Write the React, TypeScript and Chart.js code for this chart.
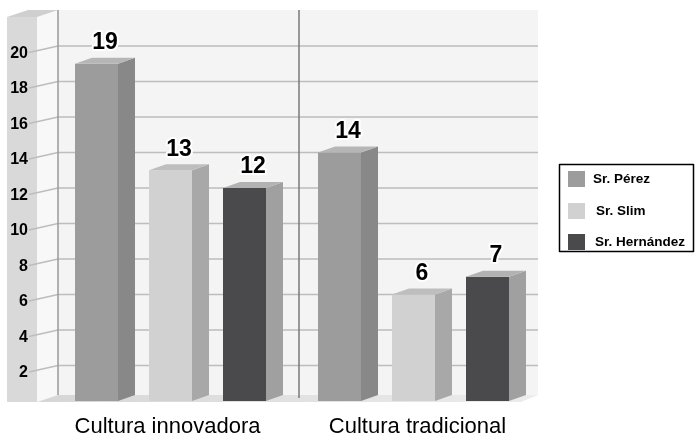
import React, { useEffect, useRef } from "react";
import Chart from "chart.js/auto";

const categories = ["Cultura innovadora", "Cultura tradicional"];
const seriesNames = ["Sr. Pérez", "Sr. Slim", "Sr. Hernández"];
const perez = [19, 14];
const slim = [13, 6];
const hernandez = [12, 7];
const yTicks = [2, 4, 6, 8, 10, 12, 14, 16, 18, 20];

const frontColors = ["#9c9c9c", "#d1d1d1", "#4a4a4c"];
const sideColors = ["#888888", "#a8a8a8", "#a0a0a0"];
const topColors = ["#b6b6b6", "#bebebe", "#b2b2b2"];

const DX = 17;
const DY = -6;
const FONT = "'Liberation Sans', Arial, sans-serif";

const decorPlugin = {
  id: "decor3d",
  beforeDatasetsDraw(chart: any) {
    const ctx = chart.ctx;
    const y = chart.scales.y;
    const x = chart.scales.x;
    const wallL = 58;
    const wallR = 538;
    const wallT = 10;
    const wallB = 395;
    const frontB = 402;
    ctx.save();
    // back wall
    ctx.fillStyle = "#f4f4f4";
    ctx.fillRect(wallL, wallT, wallR - wallL, wallB - wallT);
    // side plane of left panel
    ctx.fillStyle = "#f8f8f8";
    ctx.beginPath();
    ctx.moveTo(37, 17);
    ctx.lineTo(wallL, wallT);
    ctx.lineTo(wallL, wallB);
    ctx.lineTo(37, frontB);
    ctx.closePath();
    ctx.fill();
    // floor
    const g = ctx.createLinearGradient(37, 0, wallR, 0);
    g.addColorStop(0, "#d6d6d6");
    g.addColorStop(1, "#ececec");
    ctx.fillStyle = g;
    ctx.beginPath();
    ctx.moveTo(37, frontB);
    ctx.lineTo(wallL, wallB);
    ctx.lineTo(wallR, wallB);
    ctx.lineTo(wallR - DX, frontB);
    ctx.closePath();
    ctx.fill();
    // left panel front
    ctx.fillStyle = "#d9d9d9";
    ctx.fillRect(7, 17, 30, frontB - 17);
    // left panel top
    ctx.fillStyle = "#cfcfcf";
    ctx.beginPath();
    ctx.moveTo(7, 17);
    ctx.lineTo(28, 10);
    ctx.lineTo(wallL, wallT);
    ctx.lineTo(37, 17);
    ctx.closePath();
    ctx.fill();
    // gridlines and ticks
    ctx.strokeStyle = "#bdbdbd";
    ctx.lineWidth = 1.5;
    ctx.font = "bold 16px " + FONT;
    ctx.textAlign = "right";
    ctx.textBaseline = "middle";
    for (const v of yTicks) {
      const py = y.getPixelForValue(v);
      ctx.beginPath();
      ctx.moveTo(wallL, py);
      ctx.lineTo(wallR, py);
      ctx.stroke();
      ctx.beginPath();
      ctx.moveTo(29, py + 6.5);
      ctx.lineTo(wallL, py);
      ctx.stroke();
      ctx.fillStyle = "#000";
      ctx.fillText(String(v), 28, py + 7.5);
    }
    // wall edge line
    ctx.strokeStyle = "#9a9a9a";
    ctx.lineWidth = 1.5;
    ctx.beginPath();
    ctx.moveTo(wallL, wallT);
    ctx.lineTo(wallL, wallB);
    ctx.stroke();
    // divider between categories
    const mid = (x.getPixelForValue(0) + x.getPixelForValue(1)) / 2 + 7;
    ctx.strokeStyle = "#7a7a7a";
    ctx.lineWidth = 1.5;
    ctx.beginPath();
    ctx.moveTo(mid, wallT);
    ctx.lineTo(mid, wallB + 3);
    ctx.stroke();
    ctx.restore();
  },
  afterDatasetsDraw(chart: any) {
    const ctx = chart.ctx;
    const x = chart.scales.x;
    ctx.save();
    chart.data.datasets.forEach((ds: any, di: number) => {
      const meta = chart.getDatasetMeta(di);
      meta.data.forEach((bar: any, i: number) => {
        const left = bar.x - bar.width / 2;
        const right = bar.x + bar.width / 2;
        const top = bar.y;
        const base = bar.base;
        // side face
        ctx.fillStyle = sideColors[di];
        ctx.beginPath();
        ctx.moveTo(right, top);
        ctx.lineTo(right + DX, top + DY);
        ctx.lineTo(right + DX, base + DY);
        ctx.lineTo(right, base);
        ctx.closePath();
        ctx.fill();
        // top face
        ctx.fillStyle = topColors[di];
        ctx.beginPath();
        ctx.moveTo(left, top);
        ctx.lineTo(left + DX, top + DY);
        ctx.lineTo(right + DX, top + DY);
        ctx.lineTo(right, top);
        ctx.closePath();
        ctx.fill();
        // value label
        ctx.font = "bold 23px " + FONT;
        ctx.textAlign = "center";
        ctx.textBaseline = "middle";
        ctx.lineJoin = "round";
        ctx.strokeStyle = "#ffffff";
        ctx.lineWidth = 4;
        const lx = bar.x + DX / 2;
        const ly = top - 21;
        const txt = String(ds.data[i]);
        ctx.strokeText(txt, lx, ly);
        ctx.fillStyle = "#000";
        ctx.fillText(txt, lx, ly);
      });
    });
    // category labels
    ctx.font = "22px " + FONT;
    ctx.fillStyle = "#000";
    ctx.textAlign = "center";
    ctx.textBaseline = "alphabetic";
    const offs = [-3, 4];
    categories.forEach((c, i) => {
      ctx.fillText(c, x.getPixelForValue(i) + offs[i], 433);
    });
    // legend
    ctx.fillStyle = "#ffffff";
    ctx.fillRect(559, 164, 135, 88);
    ctx.strokeStyle = "#000";
    ctx.lineWidth = 1.5;
    ctx.strokeRect(559.5, 164.5, 134, 87);
    const rows = [179, 211, 242];
    const textX = [593, 596, 595];
    ctx.font = "bold 13.5px " + FONT;
    ctx.textAlign = "left";
    ctx.textBaseline = "middle";
    chart.data.datasets.forEach((ds: any, di: number) => {
      ctx.fillStyle = frontColors[di];
      ctx.fillRect(568, rows[di] - 8, 17, 16);
      ctx.fillStyle = "#000";
      ctx.fillText(ds.label, textX[di], rows[di]);
    });
    ctx.restore();
  },
};

export default function App() {
  const ref = useRef<HTMLCanvasElement | null>(null);
  useEffect(() => {
    if (!ref.current) return;
    const chart = new Chart(ref.current, {
      type: "bar",
      data: {
        labels: categories,
        datasets: [
          { label: seriesNames[0], data: perez, backgroundColor: frontColors[0] },
          { label: seriesNames[1], data: slim, backgroundColor: frontColors[1] },
          { label: seriesNames[2], data: hernandez, backgroundColor: frontColors[2] },
        ],
      },
      options: {
        responsive: false,
        animation: false,
        devicePixelRatio: 1,
        layout: { padding: { left: 49, right: 160, top: 10.5, bottom: 34 } },
        datasets: { bar: { categoryPercentage: 0.9136, barPercentage: 0.581, borderWidth: 0 } },
        scales: {
          x: { display: false },
          y: { display: false, min: 0, max: 22 },
        },
        plugins: { legend: { display: false }, tooltip: { enabled: false } },
      },
      plugins: [decorPlugin],
    });
    return () => chart.destroy();
  }, []);
  return (
    <div style={{ position: "fixed", left: 0, top: 0, width: 695, height: 435, background: "#fff" }}>
      <canvas ref={ref} width={695} height={435} style={{ display: "block" }} />
    </div>
  );
}
